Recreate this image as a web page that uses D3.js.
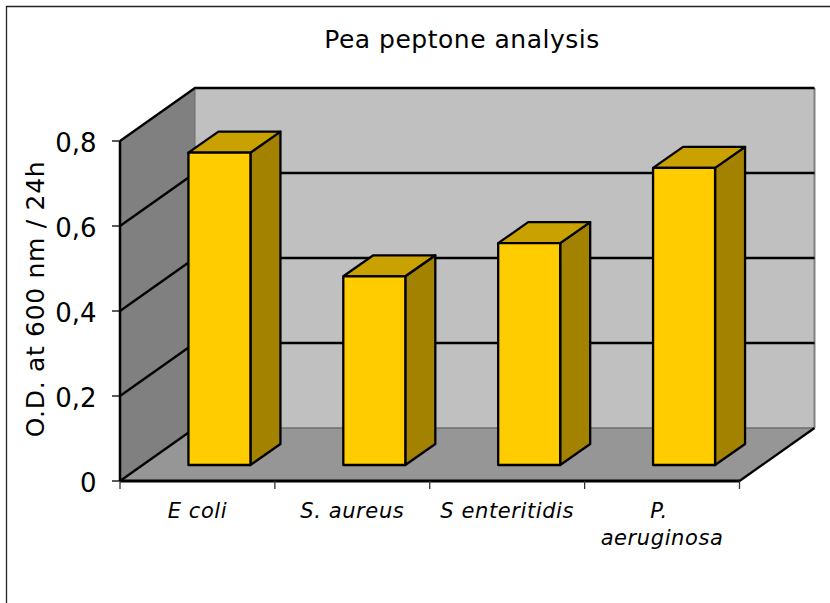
<!DOCTYPE html>
<html>
<head>
<meta charset="utf-8">
<script src="https://cdn.jsdelivr.net/npm/d3@7"></script>
<style>
    html, body { margin: 0; padding: 0; background: #fff; }
    svg { display: block; }
    text { font-family: "DejaVu Sans", sans-serif; fill: #000; }
</style>
</head>
<body>
<svg></svg>
<script>
const categories = ['E coli', 'S. aureus', 'S enteritidis', 'P. aeruginosa'];
const values = [0.735, 0.444, 0.522, 0.699];
const yTicks = [0, 0.2, 0.4, 0.6, 0.8];
const chartTitle = 'Pea peptone analysis';
const yTitle = 'O.D. at 600 nm / 24h';

const width = 830;
const height = 603;

// oblique projection: wall depth and bar depth
const depth = [75, -53];
const barDepth = [30, -21];
const barOffset = [22, -16];

const x = d3.scaleBand().domain(categories).range([120, 739.5]);
const y = d3.scaleLinear().domain([0, 0.8]).range([481, 141]);
const barW = 62;

const svg = d3.select('svg')
    .attr('width', width)
    .attr('height', height);

const poly = pts => pts.map(p => p.join(',')).join(' ');
const back = (px, py) => [px + depth[0], py + depth[1]];

const x0 = x.range()[0];
const x1 = x.range()[1];
const yb = y(0);
const yt = y(0.8);

// outer frame (only the top and left edges are in view)
svg.append('path')
    .attr('d', `M6.5,${height}V6.5H${width}`)
    .attr('fill', 'none')
    .attr('stroke', '#222')
    .attr('stroke-width', 1.3);

// back wall
svg.append('polygon')
    .attr('points', poly([back(x0, yt), back(x1, yt), back(x1, yb), back(x0, yb)]))
    .attr('fill', '#c0c0c0');

// left wall
svg.append('polygon')
    .attr('points', poly([[x0, yt], back(x0, yt), back(x0, yb), [x0, yb]]))
    .attr('fill', '#808080');

// floor
svg.append('polygon')
    .attr('points', poly([[x0, yb], back(x0, yb), back(x1, yb), [x1, yb]]))
    .attr('fill', '#969696');

// soft edges of the back wall
svg.append('line')
    .attr('x1', back(x0, yb)[0]).attr('y1', back(x0, yb)[1])
    .attr('x2', back(x1, yb)[0]).attr('y2', back(x1, yb)[1])
    .attr('stroke', '#6e6e6e').attr('stroke-width', 1.5);
svg.append('line')
    .attr('x1', back(x1, yt)[0]).attr('y1', back(x1, yt)[1])
    .attr('x2', back(x1, yb)[0]).attr('y2', back(x1, yb)[1])
    .attr('stroke', '#808080').attr('stroke-width', 2);
svg.append('line')
    .attr('x1', back(x0, yt)[0]).attr('y1', back(x0, yt)[1])
    .attr('x2', back(x0, yb)[0]).attr('y2', back(x0, yb)[1])
    .attr('stroke', '#6e6e6e').attr('stroke-width', 1);

// grid lines, running along left wall then back wall
const gridLine = d3.line();
svg.append('g')
    .selectAll('path')
    .data(yTicks.filter(d => d > 0))
    .enter().append('path')
    .attr('d', d => gridLine([[x0, y(d)], back(x0, y(d)), back(x1, y(d))]))
    .attr('fill', 'none')
    .attr('stroke', '#000')
    .attr('stroke-width', 2.3)
    .attr('stroke-linejoin', 'miter');

// floor outline and wall corner
svg.append('path')
    .attr('d', gridLine([[x0, yt], [x0, yb]]))
    .attr('stroke', '#000').attr('stroke-width', 2.5);
svg.append('path')
    .attr('d', gridLine([[x0, yb], back(x0, yb)]))
    .attr('stroke', '#000').attr('stroke-width', 2.3);
svg.append('path')
    .attr('d', gridLine([[x1, yb], back(x1, yb)]))
    .attr('stroke', '#000').attr('stroke-width', 2.3);
svg.append('path')
    .attr('d', gridLine([[x0, yb], [x1, yb]]))
    .attr('stroke', '#000').attr('stroke-width', 3);

// bars
const bars = svg.append('g')
    .selectAll('g')
    .data(categories.map((c, i) => ({ c, v: values[i] })))
    .enter().append('g');

const faceStyle = sel => sel
    .attr('stroke', '#000')
    .attr('stroke-width', 2.3)
    .attr('stroke-linejoin', 'round');

const barX = d => x(d.c) + (x.bandwidth() - barW) / 2 + barOffset[0];
const barBase = y(0) + barOffset[1];
const barTop = d => y(d.v) + barOffset[1];

bars.append('polygon')
    .attr('points', d => poly([
        [barX(d) + barW, barTop(d)],
        [barX(d) + barW + barDepth[0], barTop(d) + barDepth[1]],
        [barX(d) + barW + barDepth[0], barBase + barDepth[1]],
        [barX(d) + barW, barBase]
    ]))
    .attr('fill', '#a38200')
    .call(faceStyle);

bars.append('polygon')
    .attr('points', d => poly([
        [barX(d), barTop(d)],
        [barX(d) + barDepth[0], barTop(d) + barDepth[1]],
        [barX(d) + barW + barDepth[0], barTop(d) + barDepth[1]],
        [barX(d) + barW, barTop(d)]
    ]))
    .attr('fill', '#c9a100')
    .call(faceStyle);

bars.append('rect')
    .attr('x', barX)
    .attr('y', barTop)
    .attr('width', barW)
    .attr('height', d => barBase - barTop(d))
    .attr('fill', '#ffcc00')
    .call(faceStyle);

// y axis ticks and labels
const yAxis = svg.append('g').selectAll('g')
    .data(yTicks)
    .enter().append('g')
    .attr('transform', d => `translate(${x0},${y(d)})`);

yAxis.append('line')
    .attr('x1', -8).attr('x2', 0)
    .attr('stroke', '#000').attr('stroke-width', 1.3);

yAxis.append('text')
    .attr('x', -23.5)
    .attr('y', 10.5)
    .attr('text-anchor', 'end')
    .attr('font-size', 26)
    .text(d => String(d).replace('.', ','));

// x axis ticks
svg.append('g').selectAll('line')
    .data(d3.range(categories.length + 1))
    .enter().append('line')
    .attr('x1', i => x0 + i * x.step())
    .attr('x2', i => x0 + i * x.step())
    .attr('y1', yb)
    .attr('y2', yb + 8)
    .attr('stroke', '#333')
    .attr('stroke-width', 1.3);

// category labels, wrapped when too long
svg.append('g').selectAll('text')
    .data(categories)
    .enter().append('text')
    .attr('text-anchor', 'middle')
    .attr('font-size', 21)
    .attr('font-style', 'italic')
    .attr('letter-spacing', 0.6)
    .each(function (d) {
        const lines = d === 'P. aeruginosa' ? ['P.', 'aeruginosa'] : [d];
        const t = d3.select(this);
        lines.forEach((s, i) => {
            const cx = x(d) + x.bandwidth() / 2;
            t.append('tspan')
                .attr('x', i === 0 && lines.length > 1 ? cx - 3 : cx)
                .attr('y', 518 + i * 27)
                .text(s);
        });
    });

svg.append('text')
    .attr('x', 462)
    .attr('y', 48)
    .attr('text-anchor', 'middle')
    .attr('font-size', 25)
    .attr('letter-spacing', 0.5)
    .text(chartTitle);

svg.append('text')
    .attr('transform', 'translate(44,299) rotate(-90)')
    .attr('text-anchor', 'middle')
    .attr('font-size', 25)
    .attr('letter-spacing', 0.7)
    .text(yTitle);
</script>
</body>
</html>
